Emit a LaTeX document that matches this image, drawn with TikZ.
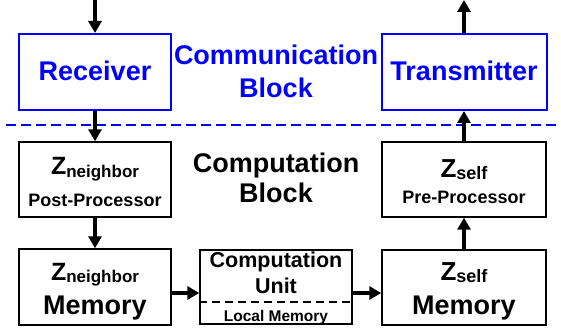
\documentclass[tikz,border=0pt]{standalone}
\usepackage{fontspec}
\setmainfont{Liberation Sans}
\usetikzlibrary{arrows.meta}
\definecolor{commblue}{RGB}{0,0,255}
\begin{document}
\begin{tikzpicture}[x=1pt,y=-1pt,
  box/.style={draw=black, line width=1.4pt, inner sep=0pt, minimum width=#1},
  cbox/.style={draw=commblue, line width=2pt, inner sep=0pt, minimum width=#1},
  txt/.style={inner sep=0pt, anchor=base, font=\bfseries\fontsize{#1}{#1}\selectfont},
  arr/.style={line width=3.5pt, -{Triangle[width=13pt,length=12pt]}}]
  \useasboundingbox[fill=white] (0,0) rectangle (561,331);

  % communication block
  \node[cbox=152pt, minimum height=76pt] (rx) at (95,72) {};
  \node[cbox=165pt, minimum height=76pt] (tx) at (464,72) {};
  \node[txt=27, text=commblue] (rxt) at (95,81) {Receiver};
  \node[txt=27, text=commblue] (txt) at (464,81) {Transmitter};
  \node[txt=27, text=commblue] (cm1) at (276,65) {Communication};
  \node[txt=27, text=commblue] (cm2) at (276,98) {Block};

  % separation between the two blocks
  \coordinate (dl) at (6,125);
  \coordinate (dr) at (561,125);
  \draw[commblue, line width=2pt, dash pattern=on 10pt off 5pt] (dl) -- (dr);

  % computation block
  \node[txt=27] (cp1) at (276,172) {Computation};
  \node[txt=27] (cp2) at (276,202) {Block};

  \node[box=152pt, minimum height=75pt] (pp) at (95,179.5) {};
  \node[txt=25] (ppz) at (95,174.5) {Z\raisebox{-2.5pt}{\fontsize{17}{17}\selectfont neighbor}};
  \node[txt=18] (ppt) at (95,206) {Post-Processor};

  \node[box=152pt, minimum height=76pt] (nm) at (95,287) {};
  \node[txt=25] (nmz) at (95,280) {Z\raisebox{-2.5pt}{\fontsize{17}{17}\selectfont neighbor}};
  \node[txt=27] (nmt) at (95,314) {Memory};

  \node[box=152pt, minimum height=74pt] (cu) at (276,287) {};
  \node[txt=21.5] (cut1) at (276,267) {Computation};
  \node[txt=21.5] (cut2) at (276,293) {Unit};
  \node[txt=15.5] (cut3) at (276,321) {Local Memory};
  \draw[line width=1.4pt, dash pattern=on 8pt off 5pt] (cu.west |- 0,302) -- (cu.east |- 0,302);

  \node[box=164pt, minimum height=75pt] (sp) at (464,179.5) {};
  \node[txt=26] (spz) at (464,177) {Z\raisebox{-2.5pt}{\fontsize{18}{18}\selectfont self}};
  \node[txt=18] (spt) at (464,203.5) {Pre-Processor};

  \node[box=164pt, minimum height=75pt] (sm) at (464,287.5) {};
  \node[txt=26] (smz) at (464,280) {Z\raisebox{-2.5pt}{\fontsize{18}{18}\selectfont self}};
  \node[txt=27] (smt) at (464,314) {Memory};

  % data flow
  \coordinate (in) at (95,0);
  \coordinate (out) at (464,0);
  \draw[arr] (in) -- (rx.north);
  \draw[arr] (rx.south) -- (pp.north);
  \draw[arr] (pp.south) -- (nm.north);
  \draw[arr] ([yshift=-6pt]nm.east) -- ([yshift=-6pt]cu.west);
  \draw[arr] ([yshift=-6pt]cu.east) -- ([yshift=-5.5pt]sm.west);
  \draw[arr] (sm.north) -- (sp.south);
  \draw[arr] (sp.north) -- (tx.south);
  \draw[arr] (tx.north) -- (out);
\end{tikzpicture}
\end{document}
